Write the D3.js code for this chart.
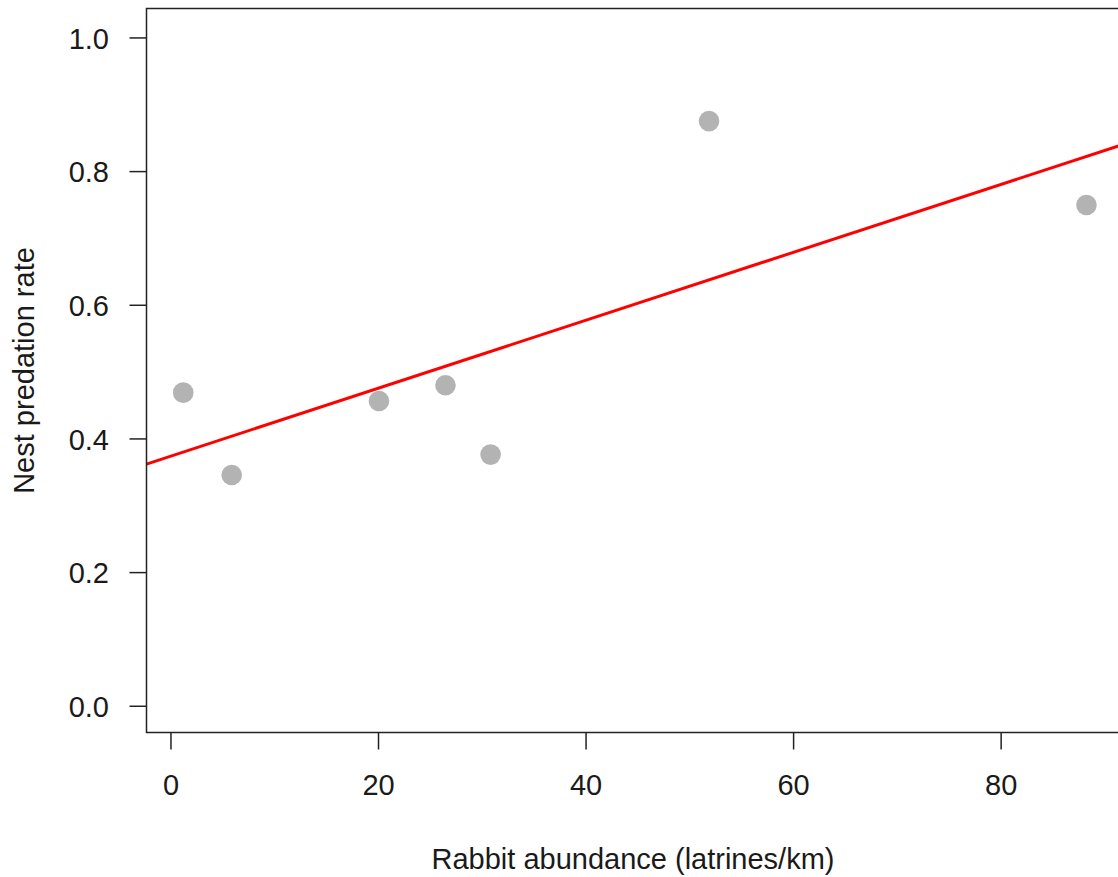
<!DOCTYPE html>
<html>
<head>
<meta charset="utf-8">
<script src="https://cdn.jsdelivr.net/npm/d3@7"></script>
<style>
  html, body { margin: 0; padding: 0; background: #fff; }
  svg { display: block; }
  text { font-family: "Liberation Sans", Arial, sans-serif; fill: #1a1a1a; }
</style>
</head>
<body>
<svg id="chart" width="1118" height="877"></svg>
<script>
// Data
const abundance = [1.23, 5.9, 20.09, 26.5, 30.85, 51.9, 88.27];
const predation = [0.4685, 0.3454, 0.456, 0.4796, 0.3758, 0.8748, 0.7492];
const fitIntercept = 0.3734;
const fitSlope = 0.005082;
const xTicks = [0, 20, 40, 60, 80];
const yTicks = [0.0, 0.2, 0.4, 0.6, 0.8, 1.0];
const xLabel = "Rabbit abundance (latrines/km)";
const yLabel = "Nest predation rate";

const svg = d3.select("#chart");
const plot = { left: 146.5, right: 1120.5, top: 8.5, bottom: 732.5 };

const x = d3.scaleLinear().domain([-2.31, 91.55]).range([plot.left, plot.right]);
const y = d3.scaleLinear().domain([-0.04, 1.0433]).range([plot.bottom, plot.top]);

svg.append("defs").append("clipPath").attr("id", "clip")
  .append("rect")
  .attr("x", plot.left).attr("y", plot.top)
  .attr("width", plot.right - plot.left).attr("height", plot.bottom - plot.top);

const g = svg.append("g").attr("clip-path", "url(#clip)");

// points
g.selectAll("circle").data(abundance.map((a, i) => [a, predation[i]]))
  .enter().append("circle")
  .attr("cx", d => x(d[0]))
  .attr("cy", d => y(d[1]))
  .attr("r", 10.3)
  .attr("fill", "#b3b3b3");

// regression line
const xd = x.domain();
g.append("line")
  .attr("x1", x(xd[0])).attr("y1", y(fitIntercept + fitSlope * xd[0]))
  .attr("x2", x(xd[1])).attr("y2", y(fitIntercept + fitSlope * xd[1]))
  .attr("stroke", "#ff0000")
  .attr("stroke-width", 3);

// box
svg.append("rect")
  .attr("x", plot.left).attr("y", plot.top)
  .attr("width", plot.right - plot.left).attr("height", plot.bottom - plot.top)
  .attr("fill", "none").attr("stroke", "#222").attr("stroke-width", 1.5);

// x axis
const xAxis = d3.axisBottom(x).tickValues(xTicks).tickSize(17).tickPadding(25)
  .tickFormat(d3.format("d"));
const gx = svg.append("g").attr("transform", `translate(0,${plot.bottom})`).call(xAxis);
gx.select(".domain").remove();
gx.selectAll(".tick line").attr("stroke", "#222").attr("stroke-width", 1.5);
gx.selectAll(".tick text").attr("font-size", 29).attr("fill", "#1a1a1a")
  .attr("font-family", "Liberation Sans, Arial, sans-serif");

// y axis
const yAxis = d3.axisLeft(y).tickValues(yTicks).tickSize(17).tickPadding(20.5)
  .tickFormat(d3.format(".1f"));
const gy = svg.append("g").attr("transform", `translate(${plot.left},0)`).call(yAxis);
gy.select(".domain").remove();
gy.selectAll(".tick line").attr("stroke", "#222").attr("stroke-width", 1.5);
gy.selectAll(".tick text").attr("font-size", 29).attr("fill", "#1a1a1a")
  .attr("dy", "0.37em")
  .attr("font-family", "Liberation Sans, Arial, sans-serif");

// axis titles
svg.append("text")
  .attr("x", 633)
  .attr("y", 869)
  .attr("text-anchor", "middle")
  .attr("font-size", 29)
  .text(xLabel);

svg.append("text")
  .attr("transform", `translate(33.5,${(plot.top + plot.bottom) / 2}) rotate(-90)`)
  .attr("text-anchor", "middle")
  .attr("font-size", 29)
  .text(yLabel);
</script>
</body>
</html>
